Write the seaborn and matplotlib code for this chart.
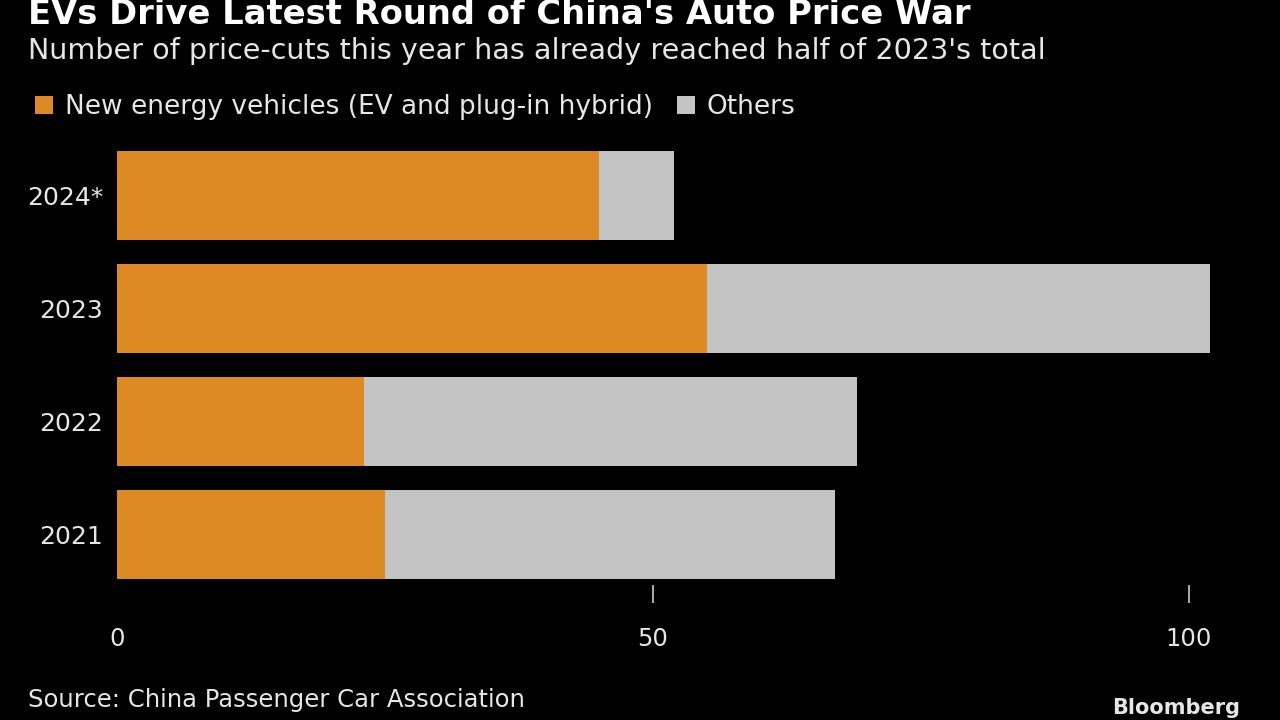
import matplotlib
matplotlib.use("Agg")
import matplotlib.pyplot as plt
from matplotlib.patches import Patch
import seaborn as sns
import pandas as pd

years = ["2024*", "2023", "2022", "2021"]
nev = [45, 55, 23, 25]
others = [7, 47, 46, 42]
xticks = [0, 50, 100]

title = "EVs Drive Latest Round of China's Auto Price War"
subtitle = "Number of price-cuts this year has already reached half of 2023's total"
source = "Source: China Passenger Car Association"

ORANGE = "#dd8a25"
GREY = "#c3c3c3"
BG = "#000000"
TXT = "#e6e6e6"

sns.set_theme(style="dark")
FONT = ["DejaVu Sans"]
plt.rcParams["font.family"] = FONT

df = pd.DataFrame({"year": years, "nev": nev, "others": others})
df["total"] = df["nev"] + df["others"]

fig = plt.figure(figsize=(12.8, 7.2), dpi=100, facecolor=BG)
ax = fig.add_axes([117 / 1280, 1 - 585 / 720, 1098.8 / 1280, 445.5 / 720])
ax.set_facecolor(BG)

sns.barplot(data=df, y="year", x="total", order=years, color=GREY,
            width=0.79, ax=ax, saturation=1, edgecolor="none", orient="h")
sns.barplot(data=df, y="year", x="nev", order=years, color=ORANGE,
            width=0.79, ax=ax, saturation=1, edgecolor="none", orient="h")

ax.set_xlim(0, 102.5)
ax.set_ylim(3.45, -0.5)
ax.set_xlabel("")
ax.set_ylabel("")
for s in ax.spines.values():
    s.set_visible(False)
ax.grid(False)

ax.set_xticks(xticks)
ax.set_xticklabels([str(v) for v in xticks])
ax.tick_params(axis="x", colors="#bbbbbb", length=13, width=1.3, pad=17,
               labelsize=17.5, labelcolor=TXT, direction="out", bottom=True)
ax.xaxis.get_major_ticks()[0].tick1line.set_visible(False)
ax.tick_params(axis="y", length=0, pad=10, labelsize=18, labelcolor=TXT)

fig.text(28 / 1280, 1 - 14 / 720, title, color="white", fontsize=24.3,
         fontweight="bold", ha="left", va="center")
fig.text(28 / 1280, 1 - 51 / 720, subtitle, color=TXT, fontsize=20.6,
         ha="left", va="center")

handles = [Patch(facecolor=ORANGE, edgecolor="none"),
           Patch(facecolor=GREY, edgecolor="none")]
fig.legend(handles, ["New energy vehicles (EV and plug-in hybrid)", "Others"],
           loc="center left", bbox_to_anchor=(24 / 1280, 1 - 107 / 720),
           ncol=2, frameon=False, fontsize=19, labelcolor=TXT,
           handlelength=0.7, handleheight=0.7, handletextpad=0.45,
           columnspacing=0.9, borderaxespad=0)

fig.text(28 / 1280, 1 - 700 / 720, source, color=TXT, fontsize=17.5,
         ha="left", va="center")
fig.text(1240 / 1280, 1 - 718 / 720, "Bloomberg", color=TXT, fontsize=15,
         fontweight="bold", ha="right", va="bottom")

fig.savefig("out.png", dpi=100, facecolor=BG)
